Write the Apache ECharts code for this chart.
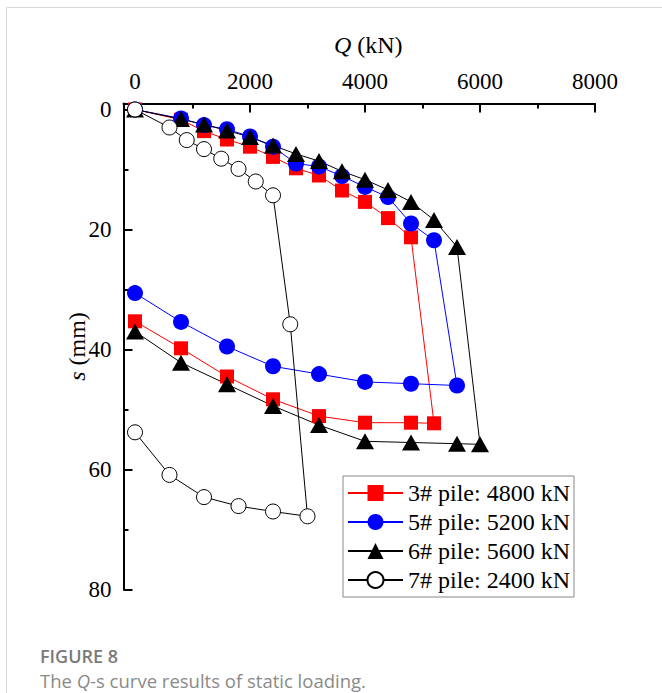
<!DOCTYPE html>
<html>
<head>
<meta charset="utf-8">
<script src="https://cdn.jsdelivr.net/npm/echarts@6/dist/echarts.min.js"></script>
<style>
html,body{margin:0;padding:0;background:#fff;}
#chart{width:662px;height:693px;}
</style>
</head>
<body>
<div id="chart"></div>
<script>
// ---- data ----
const seriesNames = ['3# pile: 4800 kN', '5# pile: 5200 kN', '6# pile: 5600 kN', '7# pile: 2400 kN'];
const q3 = [0, 800, 1200, 1600, 2000, 2400, 2800, 3200, 3600, 4000, 4400, 4800, 5200, 4800, 4000, 3200, 2400, 1600, 800, 0];
const s3 = [0, 1.7, 3.6, 5.0, 6.2, 7.9, 9.8, 11.0, 13.5, 15.4, 18.1, 21.3, 52.3, 52.2, 52.2, 51.1, 48.3, 44.5, 39.8, 35.3];
const q5 = [0, 800, 1200, 1600, 2000, 2400, 2800, 3200, 3600, 4000, 4400, 4800, 5200, 5600, 4800, 4000, 3200, 2400, 1600, 800, 0];
const s5 = [0, 1.5, 2.6, 3.3, 4.5, 6.2, 9.0, 9.5, 11.1, 12.9, 14.6, 19.0, 21.8, 46.0, 45.7, 45.4, 44.1, 42.8, 39.5, 35.4, 30.6];
const q6 = [0, 800, 1200, 1600, 2000, 2400, 2800, 3200, 3600, 4000, 4400, 4800, 5200, 5600, 6000, 5600, 4800, 4000, 3200, 2400, 1600, 800, 0];
const s6 = [0, 1.6, 2.5, 3.5, 4.6, 6.0, 7.4, 8.6, 10.3, 11.7, 13.4, 15.4, 18.4, 22.9, 55.8, 55.7, 55.5, 55.3, 52.6, 49.4, 45.8, 42.2, 37.0];
const q7 = [0, 600, 900, 1200, 1500, 1800, 2100, 2400, 2700, 3000, 2400, 1800, 1200, 600, 0];
const s7 = [0, 3.0, 5.1, 6.6, 8.2, 9.9, 12.0, 14.3, 35.8, 67.8, 67.0, 66.1, 64.6, 60.9, 53.8];
const xTickMin = 0, xTickMax = 8000, xTickStep = 2000;
const yTickMin = 0, yTickMax = 80, yTickStep = 20;
const xRange = [-200, 8000];
const yRange = [-1, 80];

const pairs = (q, s) => q.map((v, i) => [v, s[i]]);
const serif = 'Liberation Serif';

const chart = echarts.init(document.getElementById('chart'), null, {renderer: 'svg'});

// main plot box
const L = 123.5, R = 67, T = 103.5, B = 103.5;
const W = 662 - L - R, H = 693 - T - B;
// offsets of the tick-axes so that their zero matches the data zero
const xZeroOff = W * (xTickMin - xRange[0]) / (xRange[1] - xRange[0]);
const yZeroOff = H * (yTickMin - yRange[0]) / (yRange[1] - yRange[0]);

const hiddenAxis = (gi, extra) => Object.assign({
  type: 'value', gridIndex: gi, show: false,
  axisLine: {show: false}, axisTick: {show: false}, axisLabel: {show: false}, splitLine: {show: false}
}, extra || {});

const tickStyle = {color: '#000', width: 2};
const labelFmt = v => String(v);

chart.setOption({
  animation: false,
  grid: [
    {left: L, right: R, top: T, bottom: B},
    {left: L + xZeroOff, right: R, top: T, bottom: B},
    {left: L, right: R, top: T + yZeroOff, bottom: B}
  ],
  xAxis: [
    {
      type: 'value', gridIndex: 0, position: 'top', min: xRange[0], max: xRange[1],
      name: '{i|Q} (kN)', nameLocation: 'middle', nameGap: 47,
      nameTextStyle: {fontFamily: serif, fontSize: 24, color: '#000', padding: [0, 0, 0, 18],
        rich: {i: {fontStyle: 'italic', fontFamily: serif, fontSize: 24, color: '#000'}}},
      axisLine: {show: true, onZero: false, lineStyle: {color: '#000', width: 2}},
      axisTick: {show: false}, axisLabel: {show: false}, splitLine: {show: false}
    },
    {
      type: 'value', gridIndex: 1, position: 'top', min: xTickMin, max: xTickMax, interval: xTickStep,
      axisLine: {show: false, onZero: false},
      axisTick: {show: true, inside: true, length: 9, lineStyle: tickStyle},
      minorTick: {show: true, splitNumber: 2, length: 5, lineStyle: tickStyle},
      axisLabel: {show: true, margin: 11, fontFamily: serif, fontSize: 23, color: '#000', formatter: labelFmt},
      splitLine: {show: false}, minorSplitLine: {show: false}
    },
    hiddenAxis(2, {min: xRange[0], max: xRange[1]})
  ],
  yAxis: [
    {
      type: 'value', gridIndex: 0, inverse: true, min: yRange[0], max: yRange[1],
      name: '{i|s} (mm)', nameLocation: 'middle', nameGap: 35,
      nameTextStyle: {fontFamily: serif, fontSize: 24, color: '#000',
        rich: {i: {fontStyle: 'italic', fontFamily: serif, fontSize: 24, color: '#000'}}},
      axisLine: {show: true, onZero: false, lineStyle: {color: '#000', width: 2}},
      axisTick: {show: false}, axisLabel: {show: false}, splitLine: {show: false}
    },
    hiddenAxis(1, {inverse: true, min: yRange[0], max: yRange[1]}),
    {
      type: 'value', gridIndex: 2, position: 'left', inverse: true, min: yTickMin, max: yTickMax, interval: yTickStep,
      axisLine: {show: false, onZero: false},
      axisTick: {show: true, inside: true, length: 9, lineStyle: tickStyle},
      minorTick: {show: true, splitNumber: 2, length: 5, lineStyle: tickStyle},
      axisLabel: {show: true, margin: 12, fontFamily: serif, fontSize: 23, color: '#000', formatter: labelFmt},
      splitLine: {show: false}, minorSplitLine: {show: false}
    }
  ],
  legend: {
    data: seriesNames,
    orient: 'vertical', left: 343, top: 476,
    itemWidth: 55, itemHeight: 20, itemGap: 5,
    padding: [5, 4, 5, 4],
    borderColor: '#888', borderWidth: 1,
    lineStyle: {width: 2},
    textStyle: {fontFamily: serif, fontSize: 24, color: '#000'},
    selectedMode: false
  },
  graphic: [
    {type: 'rect', shape: {x: 6.5, y: 7.5, width: 800, height: 800}, style: {fill: 'none', stroke: '#d9d9d9', lineWidth: 1}, silent: true},
    {type: 'text', left: 40, top: 647, style: {text: 'FIGURE 8', fontFamily: 'Open Sans', fontWeight: 600, fontSize: 18, fill: '#7a7a7a'}},
    {type: 'text', left: 40, top: 671, style: {text: '{a|The }{i|Q}{a|-s curve results of static loading.}', fontFamily: 'Open Sans', fontSize: 18.5, fill: '#8a8a8a',
      rich: {a: {fontFamily: 'Open Sans', fontSize: 18.5, color: '#8a8a8a'}, i: {fontFamily: 'Open Sans', fontStyle: 'italic', fontSize: 18.5, color: '#8a8a8a'}}}}
  ],
  series: [
    ['rect', 14, '#ff0000', '#ff0000', pairs(q3, s3)],
    ['circle', 16, '#0000ff', '#0000ff', pairs(q5, s5)],
    ['triangle', [18, 16], '#000000', '#000000', pairs(q6, s6)],
    ['circle', 15, '#000000', '#ffffff', pairs(q7, s7)]
  ].map((d, i) => ({
    name: seriesNames[i], type: 'line', data: d[4], xAxisIndex: 0, yAxisIndex: 0,
    symbol: d[0], symbolSize: d[1], showAllSymbol: true,
    lineStyle: {color: d[2], width: 1},
    itemStyle: {color: d[3], borderColor: d[2], borderWidth: d[3] === '#ffffff' ? 1 : 0, opacity: 1},
    emphasis: {disabled: true}
  }))
});
</script>
</body>
</html>
